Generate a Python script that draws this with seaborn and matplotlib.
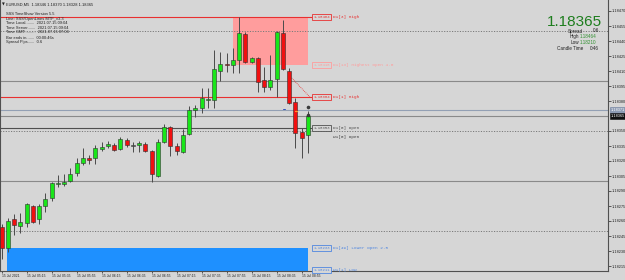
import numpy as np
import matplotlib
matplotlib.use("Agg")
import matplotlib.pyplot as plt
import seaborn as sns
import pandas as pd

# ---------------- data ----------------
opens = [1.18254, 1.18233, 1.18262, 1.18255, 1.18258, 1.18275, 1.18262, 1.18275, 1.18283, 1.18297,
         1.18297, 1.18300, 1.18308, 1.18318, 1.18323, 1.18323, 1.18332, 1.18335, 1.18336, 1.18332,
         1.18341, 1.18335, 1.18336, 1.18337, 1.18330, 1.18305, 1.18339, 1.18354, 1.18335, 1.18329,
         1.18347, 1.18371, 1.18373, 1.18381, 1.18381, 1.18410, 1.18417, 1.18416, 1.18421, 1.18447,
         1.18419, 1.18423, 1.18401, 1.18394, 1.18402, 1.18448, 1.18410, 1.18379, 1.18349, 1.18346]
closes = [1.18233, 1.18260, 1.18256, 1.18259, 1.18277, 1.18259, 1.18275, 1.18282, 1.18298, 1.18298,
          1.18299, 1.18307, 1.18318, 1.18323, 1.18321, 1.18333, 1.18334, 1.18337, 1.18331, 1.18342,
          1.18336, 1.18335, 1.18338, 1.18330, 1.18307, 1.18339, 1.18354, 1.18335, 1.18330, 1.18346,
          1.18371, 1.18373, 1.18383, 1.18382, 1.18412, 1.18417, 1.18416, 1.18421, 1.18448, 1.18419,
          1.18423, 1.18399, 1.18394, 1.18401, 1.18449, 1.18412, 1.18378, 1.18348, 1.18343, 1.18365]
highs = [1.18257, 1.18263, 1.18267, 1.18268, 1.18278, 1.18276, 1.18277, 1.18288, 1.18299, 1.18306,
         1.18307, 1.18313, 1.18323, 1.18333, 1.18326, 1.18336, 1.18339, 1.18340, 1.18338, 1.18344,
         1.18343, 1.18339, 1.18340, 1.18339, 1.18331, 1.18342, 1.18357, 1.18355, 1.18338, 1.18352,
         1.18375, 1.18376, 1.18393, 1.18393, 1.18431, 1.18429, 1.18428, 1.18433, 1.18464, 1.18449,
         1.18424, 1.18424, 1.18414, 1.18426, 1.18450, 1.18461, 1.18413, 1.18383, 1.18353, 1.18370]
lows = [1.18222, 1.18229, 1.18246, 1.18248, 1.18254, 1.18258, 1.18257, 1.18269, 1.18280, 1.18294,
        1.18295, 1.18299, 1.18305, 1.18316, 1.18317, 1.18317, 1.18330, 1.18333, 1.18330, 1.18331,
        1.18334, 1.18329, 1.18329, 1.18329, 1.18299, 1.18304, 1.18338, 1.18325, 1.18326, 1.18328,
        1.18346, 1.18364, 1.18368, 1.18373, 1.18373, 1.18400, 1.18409, 1.18408, 1.18408, 1.18418,
        1.18418, 1.18389, 1.18389, 1.18391, 1.18384, 1.18411, 1.18377, 1.18333, 1.18323, 1.18328]

time_tick_idx = [0, 4, 8, 12, 16, 20, 24, 28, 32, 36, 40, 44, 48]
time_tick_labels = ["15 Jul 2021", "15 Jul 05:15", "15 Jul 05:35", "15 Jul 05:55", "15 Jul 06:15",
                    "15 Jul 06:35", "15 Jul 06:55", "15 Jul 07:15", "15 Jul 07:35", "15 Jul 07:55",
                    "15 Jul 08:15", "15 Jul 08:35", "15 Jul 08:55"]
price_ticks = [1.18470, 1.18455, 1.18440, 1.18425, 1.18410, 1.18395, 1.18380, 1.18350, 1.18335,
               1.18320, 1.18305, 1.18290, 1.18275, 1.18260, 1.18245, 1.18230, 1.18215]

round_solid = [1.18400, 1.18300]
round_dotted = [1.18450, 1.18350, 1.18250]
bid, ask = 1.18365, 1.18371
day_high, day_low, spread = 1.18464, 1.18210, 0.6

level_names = ["D1[3] High", "D1[13] Highest Open 4.0", "D1[1] High", "D1[0] Open",
               "D1[49] Lower Open 2.5", "W1[1] Low"]
level_prices = [1.18464, 1.18416, 1.18384, 1.18353, 1.18233, 1.18211]
level_colors = ["#e83030", "#ff9c9c", "#e83030", "#505050", "#4f86e0", "#4f86e0"]
level_lines = [True, False, True, True, False, False]
w1_open_label = ("W1[0] Open", 1.18344)

pink_zone = (37, 49, 1.18416, 1.18464)
blue_zone = (0.85, 49, 1.18150, 1.18233)
link_x = [46.4, 49.3]
link_y = [1.18403, 1.18384]

info_lines = ["EURUSD,M5  1.18346 1.18370 1.18328 1.18365",
              "SSS TimeShow Version 5.5",
              "Line: SSS!OpenLines MTF_v3.3",
              "Time Local........  2021.07.15 09:04",
              "Time Server.......  2021.07.15 09:04",
              "Time GMT..........  2021.07.15 07:04",
              "Bar ends in.......  00:00:46s",
              "Spread Pips......  0.6"]

# ---------------- style ----------------
sns.set_theme(style="ticks")
BG = "#d6d6d6"
plt.rcParams["font.family"] = ["Liberation Sans", "DejaVu Sans"]

W, H = 625, 280
fig = plt.figure(figsize=(W / 100, H / 100), dpi=100, facecolor=BG)
ax = fig.add_axes([0, 1 - 271 / H, 608 / W, 271 / H])
ax.set_facecolor(BG)

df = pd.DataFrame({"i": np.arange(len(opens)), "o": opens, "c": closes, "h": highs, "l": lows})
x0 = -0.272
ax.set_xlim(x0, 97.0)
ax.set_ylim(1.18210, 1.18481)

# zones
from matplotlib.patches import Rectangle
ax.add_patch(Rectangle((pink_zone[0], pink_zone[2]), pink_zone[1] - pink_zone[0],
                       pink_zone[3] - pink_zone[2], fc="#ff9d9d", ec="none", zorder=0.5))
ax.add_patch(Rectangle((blue_zone[0], blue_zone[2]), blue_zone[1] - blue_zone[0],
                       blue_zone[3] - blue_zone[2], fc="#1e90ff", ec="none", zorder=0.5))

# round levels
for p in round_solid:
    ax.axhline(p, color="#8a8a8a", lw=0.8, zorder=1)
for p in round_dotted:
    ax.axhline(p, color="#7a7a7a", lw=0.7, ls=(0, (1.2, 1.5)), zorder=1)
ax.axhline(ask, color="#93a0b4", lw=0.8, zorder=1)
ax.axhline(bid, color="#8a8a8a", lw=0.8, zorder=1)

# level lines + labels
for name, p, col, has_line in zip(level_names, level_prices, level_colors, level_lines):
    if has_line:
        ax.hlines(p, x0, 49.65, color=col, lw=0.8, zorder=1)
    ax.text(49.85, p, f"{p:.5f}", fontsize=2.8, color=col, va="center", ha="left",
            family="Liberation Mono",
            bbox=dict(boxstyle="square,pad=0.25", fc=BG, ec=col, lw=0.6), zorder=6)
    ax.text(53.0, p, name, fontsize=3.2, color=col, va="center", ha="left",
            family="Liberation Mono", zorder=6)
ax.text(53.0, w1_open_label[1], w1_open_label[0], fontsize=3.2, color="#404040",
        va="center", ha="left", family="Liberation Mono", zorder=6)
ax.plot(link_x, link_y, color="#e83030", lw=0.6, ls=(0, (1, 1.2)), zorder=2)

# candles
ax.vlines(df["i"], df["l"], df["h"], color="#4a4a4a", lw=0.7, zorder=2)
bottoms = np.minimum(df["o"], df["c"])
heights = np.maximum(np.abs(df["c"] - df["o"]), 0.000012)
colors = np.where(df["c"] > df["o"], "#19e619", np.where(df["c"] < df["o"], "#f01010", "#7a7a7a"))
ax.bar(df["i"], heights, bottom=bottoms, width=0.64, color=colors, edgecolor="#303030",
       linewidth=0.4, zorder=3)

# small markers on last bar
mk = pd.DataFrame({"x": [49, 49], "y": [ask + 0.00003, bid + 0.00001]})
sns.scatterplot(data=mk, x="x", y="y", ax=ax, s=5, color="#404040", edgecolor="#202020",
                linewidth=0.3, zorder=5, legend=False)
ax.plot([45.0, 45.4], [ask + 0.00001] * 2, color="#3050c0", lw=0.7, zorder=5)
ax.plot([47.0, 47.3], [ask - 0.00001] * 2, color="#ff9a30", lw=0.9, zorder=5)

# axes styling
ax.spines["top"].set_visible(False)
for s in ["left", "right", "bottom"]:
    ax.spines[s].set_color("#505050")
    ax.spines[s].set_linewidth(0.8)
ax.yaxis.tick_right()
ax.set_yticks(price_ticks)
ax.set_yticklabels([f"{v:.5f}" for v in price_ticks])
ax.tick_params(axis="y", labelsize=2.8, length=1.8, width=0.5, pad=1.2, colors="#202020")
ax.set_xticks(time_tick_idx)
ax.set_xticklabels(time_tick_labels, ha="left")
ax.tick_params(axis="x", labelsize=2.4, length=1.5, width=0.5, pad=0.8, colors="#202020")
ax.set_xlabel("")
ax.set_ylabel("")

# price boxes on the axis
ytr = ax.get_yaxis_transform()
ax.text(1.005, ask, f"{ask:.5f}", transform=ytr, fontsize=2.8, color="white", va="center",
        ha="left", bbox=dict(boxstyle="square,pad=0.3", fc="#8e9cb4", ec="#7080a0", lw=0.4),
        zorder=7, clip_on=False)
ax.text(1.005, bid, f"{bid:.5f}", transform=ytr, fontsize=2.8, color="white", va="center",
        ha="left", bbox=dict(boxstyle="square,pad=0.3", fc="#101010", ec="#101010", lw=0.4),
        zorder=7, clip_on=False)

# info panel top-left
def fx(x):
    return x / W

def fy(y):
    return 1 - y / H

info_y = [4.5, 14, 19, 23.3, 27.6, 32.2, 37.7, 42.3]
for t, yy in zip(info_lines, info_y):
    fig.text(fx(6), fy(yy), t, fontsize=2.9, color="#202020", va="center", ha="left")
fig.text(fx(2.2), fy(4.5), "\u25BC", fontsize=2.6, color="#202020", va="center", ha="left",
         family=["DejaVu Sans"])

# big price panel top-right
fig.text(fx(602), fy(26.0), f"{bid:.5f}", fontsize=11, color="#1d7d1d", ha="right",
         va="baseline")
fig.text(fx(583), fy(31), "Spread", fontsize=3.3, color="#202020", ha="right", va="center")
fig.text(fx(599), fy(31), f"{spread}", fontsize=3.3, color="#202020", ha="right", va="center")
fig.text(fx(579.5), fy(36.3), "High", fontsize=3.3, color="#202020", ha="right", va="center")
fig.text(fx(580), fy(36.3), f"{day_high:.5f}", fontsize=3.3, color="#2f8f2f", ha="left", va="center")
fig.text(fx(579.5), fy(42), "Low", fontsize=3.3, color="#202020", ha="right", va="center")
fig.text(fx(580), fy(42), f"{day_low:.5f}", fontsize=3.3, color="#2f8f2f", ha="left", va="center")
fig.text(fx(583), fy(48), "Candle Time", fontsize=3.3, color="#202020", ha="right", va="center")
fig.text(fx(599), fy(48), "0:46", fontsize=3.3, color="#202020", ha="right", va="center")

fig.savefig("out.png", dpi=100, facecolor=BG)
